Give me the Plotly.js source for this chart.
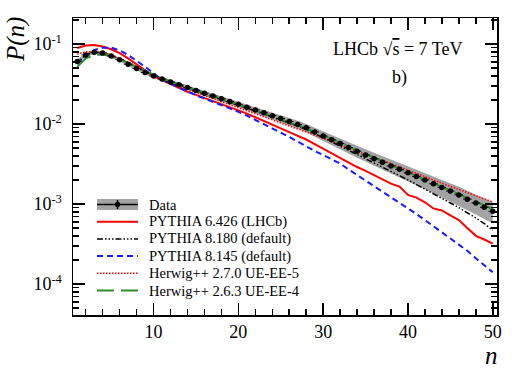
<!DOCTYPE html>
<html>
<head>
<meta charset="utf-8">
<script src="https://cdn.plot.ly/plotly-3.0.1.min.js"></script>
<style>html,body{margin:0;padding:0;background:#fff}</style>
</head>
<body>
<div id="chart" style="width:523px;height:376px"></div>
<script>
// multiplicity bins
const nBins = [1,2,3,4,5,6,7,8,9,10,11,12,13,14,15,16,17,18,19,20,21,22,23,24,25,
               26,27,28,29,30,31,32,33,34,35,36,37,38,39,40,41,42,43,44,45,46,47,48,49,50];

// LHCb data, P(n)
const dataP = [0.0604,0.0729,0.0790,0.0772,0.0708,0.0637,0.0559,0.0494,0.0440,0.0398,
               0.0365,0.0335,0.0309,0.0285,0.0263,0.0243,0.0224,0.0207,0.0191,0.0176,
               0.0162,0.0150,0.0138,0.0127,0.0117,0.01075,0.00983,0.00896,0.00794,0.00708,
               0.00635,0.00569,0.00508,0.00456,0.0041,0.00368,0.00332,0.00299,0.00271,0.00245,
               0.00221,0.0020,0.00179,0.00161,0.00145,0.0013,0.00115,0.00103,0.00091,0.00081];
// fractional systematic uncertainty (grey band)
const dataSys = [0.07,0.05,0.05,0.05,0.05,0.05,0.05,0.05,0.05,0.05,
                 0.055,0.055,0.06,0.06,0.065,0.065,0.07,0.07,0.075,0.08,
                 0.085,0.09,0.095,0.10,0.105,0.11,0.115,0.12,0.13,0.14,
                 0.15,0.155,0.16,0.17,0.18,0.185,0.19,0.20,0.21,0.22,
                 0.225,0.23,0.24,0.25,0.26,0.265,0.27,0.28,0.285,0.29];

const py6426 = [0.089,0.096,0.097,0.093,0.086,0.077,0.066,0.056,0.047,0.0395,
                0.0355,0.0315,0.0280,0.0253,0.0231,0.0212,0.0195,0.0178,0.0162,0.0148,
                0.0135,0.0122,0.0110,0.0098,0.0088,0.0079,0.0071,0.0064,0.0056,0.0049,
                0.0043,0.0037,0.0033,0.0029,0.0026,0.0023,0.0020,0.0018,0.00165,0.0013,
                0.0012,0.00105,0.00088,0.00083,0.00072,0.00063,0.0005,0.0004,0.00036,0.00032];

const py8180 = [0.058,0.074,0.079,0.078,0.072,0.065,0.058,0.051,0.045,0.040,
                0.0365,0.0335,0.0308,0.0284,0.0262,0.0241,0.0222,0.0204,0.0188,0.0173,
                0.0159,0.0146,0.0134,0.0123,0.0113,0.0103,0.0094,0.0085,0.0076,0.0068,
                0.0060,0.0053,0.0047,0.0042,0.0037,0.0033,0.0029,0.0026,0.00228,0.0020,
                0.00175,0.00154,0.00135,0.00118,0.00103,0.0009,0.00078,0.00067,0.00057,0.00047];

const py8145 = [0.056,0.072,0.084,0.090,0.090,0.083,0.073,0.062,0.052,0.043,
                0.036,0.032,0.0285,0.0255,0.0229,0.0208,0.0190,0.0173,0.0157,0.0142,
                0.0127,0.0113,0.0100,0.0088,0.0078,0.0069,0.0060,0.0053,0.0046,0.0041,
                0.0036,0.0032,0.0027,0.0023,0.0020,0.0017,0.00145,0.00123,0.00105,0.00089,
                0.00075,0.00063,0.00053,0.00044,0.00037,0.00031,0.00026,0.00021,0.00017,0.00014];

const hw270 = [0.075,0.080,0.080,0.077,0.072,0.066,0.059,0.052,0.046,0.041,
               0.0365,0.0330,0.0300,0.0273,0.0249,0.0227,0.0208,0.0191,0.0175,0.0160,
               0.0147,0.0135,0.0124,0.0114,0.0105,0.0096,0.0088,0.0081,0.0074,0.0067,
               0.0061,0.0055,0.0050,0.0046,0.0042,0.0038,0.0035,0.0032,0.0029,0.00265,
               0.0024,0.0022,0.0020,0.00182,0.00166,0.00152,0.00139,0.00127,0.00116,0.00106];

const hw263 = [0.052,0.066,0.073,0.074,0.071,0.065,0.058,0.052,0.046,0.041,
               0.0372,0.0340,0.0312,0.0287,0.0264,0.0243,0.0224,0.0206,0.0190,0.0175,
               0.0161,0.0148,0.0136,0.0125,0.0115,0.0105,0.0096,0.0088,0.0080,0.0072,
               0.0065,0.0058,0.0052,0.0047,0.0042,0.0038,0.0034,0.0031,0.0028,0.00252,
               0.00227,0.00205,0.00184,0.00166,0.00149,0.00134,0.0012,0.00107,0.00096,0.00086];

const yTickVals = [1e-4, 1e-3, 1e-2, 1e-1];
const yTickText = ['10<sup>-4</sup>', '10<sup>-3</sup>', '10<sup>-2</sup>', '10<sup>-1</sup>'];

const serif = 'Liberation Serif, Times New Roman, serif';
const bandGrey = '#a3a3a3';

let models = [
    {name: 'PYTHIA 6.426 (LHCb)', y: py6426, line: {color: '#ff0000', width: 2, dash: 'solid'}},
    {name: 'PYTHIA 8.180 (default)', y: py8180, line: {color: '#000000', width: 1.5, dash: '6px,2px,1.5px,2px,1.5px,2px,1.5px,2px'}},
    {name: 'PYTHIA 8.145 (default)', y: py8145, line: {color: '#1a1aff', width: 2, dash: '6px,4px'}},
    {name: 'Herwig++ 2.7.0 UE-EE-5', y: hw270, line: {color: '#ff0000', width: 1.5, dash: '1.5px,1.5px'}},
    {name: 'Herwig++ 2.6.3 UE-EE-4', y: hw263, line: {color: '#2e8b2e', width: 2, dash: '17px,7px'}}
];

let bandLow = dataP.map((p, i) => p * (1 - dataSys[i]));
let bandHigh = dataP.map((p, i) => p * (1 + dataSys[i]));

let yMinor = [];
for (let k = -5; k <= -1; k++) {
    for (let m = 2; m <= 9; m++) yMinor.push(m * Math.pow(10, k));
}

let traces = [
    {x: nBins, y: bandLow, type: 'scatter', mode: 'lines', line: {width: 0}, hoverinfo: 'skip'},
    {x: nBins, y: bandHigh, type: 'scatter', mode: 'lines', line: {width: 0},
     fill: 'tonexty', fillcolor: bandGrey, hoverinfo: 'skip'}
];
for (let m of models) {
    traces.push({x: nBins, y: m.y, type: 'scatter', mode: 'lines', name: m.name, line: m.line});
}
traces.push({
    x: nBins, y: dataP, type: 'scatter', mode: 'markers', name: 'Data',
    marker: {color: 'black', size: 5.5, symbol: 'circle'},
    error_x: {type: 'constant', value: 0.5, width: 0, color: 'black', thickness: 1},
    error_y: {type: 'percent', value: 4, width: 0, color: 'black', thickness: 1}
});

// ROOT-style legend box drawn by hand (pixel -> paper)
const plotL = 73, plotR = 497, plotT = 18, plotB = 315;
function px(xp) { return (xp - plotL) / (plotR - plotL); }
function py(yp) { return (plotB - yp) / (plotB - plotT); }

const legX0 = 97, legX1 = 138, legText = 147, legTop = 204.5, legStep = 17.2;
let shapes = [];
let annotations = [];

let legRows = [{name: 'Data'}].concat(models);
legRows.forEach((row, i) => {
    let yc = legTop + i * legStep;
    if (i === 0) {
        shapes.push({type: 'rect', xref: 'paper', yref: 'paper', x0: px(legX0), x1: px(legX1),
                     y0: py(yc - 5.5), y1: py(yc + 5.5), fillcolor: bandGrey, line: {width: 0}});
        shapes.push({type: 'line', xref: 'paper', yref: 'paper', x0: px(legX0), x1: px(legX1),
                     y0: py(yc), y1: py(yc), line: {color: 'black', width: 1.5}});
        let xm = (legX0 + legX1) / 2;
        shapes.push({type: 'line', xref: 'paper', yref: 'paper', x0: px(xm), x1: px(xm),
                     y0: py(yc - 4.5), y1: py(yc + 4.5), line: {color: 'black', width: 1.5}});
        shapes.push({type: 'circle', xref: 'paper', yref: 'paper', x0: px(xm - 2.7), x1: px(xm + 2.7),
                     y0: py(yc - 2.7), y1: py(yc + 2.7), fillcolor: 'black', line: {width: 0}});
    } else {
        shapes.push({type: 'line', xref: 'paper', yref: 'paper', x0: px(legX0), x1: px(legX1),
                     y0: py(yc), y1: py(yc), line: row.line});
    }
    annotations.push({text: row.name, xref: 'paper', yref: 'paper', x: px(legText), y: py(yc),
                      xanchor: 'left', yanchor: 'middle', showarrow: false,
                      font: {family: serif, size: 14.5, color: 'black'}});
});

annotations.push(
    {text: 'LHCb √<span style="text-decoration:overline">s</span> = 7 TeV', xref: 'paper', yref: 'paper',
     x: px(397.5), y: py(49), xanchor: 'center', yanchor: 'middle', showarrow: false,
     font: {family: serif, size: 18}},
    {text: 'b)', xref: 'paper', yref: 'paper', x: px(399), y: py(77), xanchor: 'center', yanchor: 'middle',
     showarrow: false, font: {family: serif, size: 18}},
    {text: '<i>P(n)</i>', xref: 'paper', yref: 'paper', x: px(16), y: py(40), textangle: -90,
     xanchor: 'center', yanchor: 'middle', showarrow: false, font: {family: serif, size: 25}},
    {text: '<i>n</i>', xref: 'paper', yref: 'paper', x: px(491), y: py(355), xanchor: 'center', yanchor: 'middle',
     showarrow: false, font: {family: serif, size: 25}}
);

let layout = {
    width: 523, height: 376,
    margin: {l: plotL, r: 523 - plotR, t: plotT, b: 376 - plotB},
    paper_bgcolor: 'white', plot_bgcolor: 'white',
    font: {family: serif, color: 'black', size: 17},
    showlegend: false,
    xaxis: {
        range: [0.5, 50.5],
        tickvals: [10, 20, 30, 40, 50],
        ticks: 'inside', ticklen: 12, tickwidth: 1.5, tickcolor: 'black',
        showline: true, linewidth: 1.5, linecolor: 'black', mirror: 'allticks',
        showgrid: false, zeroline: false,
        tickfont: {family: serif, size: 18, color: 'black'},
        minor: {dtick: 2, tick0: 0, ticks: 'inside', ticklen: 6, tickwidth: 1.5, tickcolor: 'black', showgrid: false}
    },
    yaxis: {
        type: 'log',
        range: [-4.3875, -0.675],
        tickvals: yTickVals, ticktext: yTickText,
        ticks: 'inside', ticklen: 12, tickwidth: 1.5, tickcolor: 'black',
        showline: true, linewidth: 1.5, linecolor: 'black', mirror: 'allticks',
        showgrid: false, zeroline: false,
        ticklabelstandoff: 6,
        tickfont: {family: serif, size: 18, color: 'black'},
        minor: {tickvals: yMinor, ticks: 'inside', ticklen: 6, tickwidth: 1.5, tickcolor: 'black', showgrid: false}
    },
    shapes: shapes,
    annotations: annotations
};

Plotly.newPlot('chart', traces, layout, {displayModeBar: false, staticPlot: true});
</script>
</body>
</html>
